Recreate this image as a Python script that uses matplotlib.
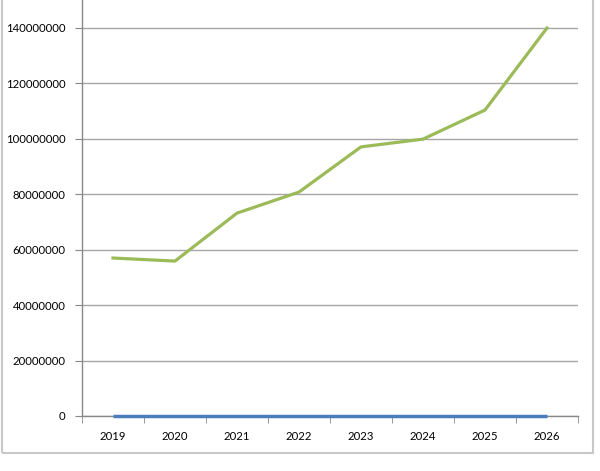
import matplotlib.pyplot as plt
from matplotlib.patches import Rectangle
from matplotlib.ticker import FixedLocator

years = ["2019", "2020", "2021", "2022", "2023", "2024", "2025", "2026"]
series_green = [57000000, 55900000, 73200000, 80800000, 97100000, 99900000, 110400000, 140000000]
series_blue = [0, 0, 0, 0, 0, 0, 0, 0]
yticks = [0, 20000000, 40000000, 60000000, 80000000, 100000000, 120000000, 140000000]

plt.rcParams["font.family"] = ["Lato", "DejaVu Sans"]

fig = plt.figure(figsize=(6, 4.71), dpi=100)
ax = fig.add_axes([82 / 600, 1 - 416 / 471, 496 / 600, 416 / 471])

x = list(range(len(years)))
ax.plot(x, series_blue, color="#4a7ebb", linewidth=2.5, solid_capstyle="butt",
        zorder=5, clip_on=False)
ax.plot(x, series_green, color="#9bbb59", linewidth=2.3, zorder=4, clip_on=False)

ax.set_xlim(-0.5, len(years) - 0.5)
ax.set_ylim(0, 140000000 * 416 / 388)
ax.set_yticks(yticks)
ax.set_yticklabels([str(v) for v in yticks], fontsize=8.2)
ax.set_xticks(x)
ax.set_xticklabels(years, fontsize=8.2)
ax.xaxis.set_minor_locator(FixedLocator([i - 0.5 for i in range(len(years) + 1)]))
ax.tick_params(axis="x", which="major", length=0, pad=11)
ax.tick_params(axis="x", which="minor", length=5, color="#888888", direction="out")
ax.tick_params(axis="y", length=5, color="#888888", direction="out", pad=7)

ax.grid(axis="y", color="#a6a6a6", linewidth=1)
ax.set_axisbelow(True)
for s in ["top", "right"]:
    ax.spines[s].set_visible(False)
for s in ["left", "bottom"]:
    ax.spines[s].set_color("#888888")
    ax.spines[s].set_linewidth(1)

fig.patches.append(Rectangle((1.5 / 600, 1 - 453 / 471), 591.5 / 600, 460 / 471,
                             transform=fig.transFigure, fill=False,
                             edgecolor="#c8c8c8", linewidth=1.5, zorder=0))

fig.savefig("out.png", dpi=100, facecolor="white")
